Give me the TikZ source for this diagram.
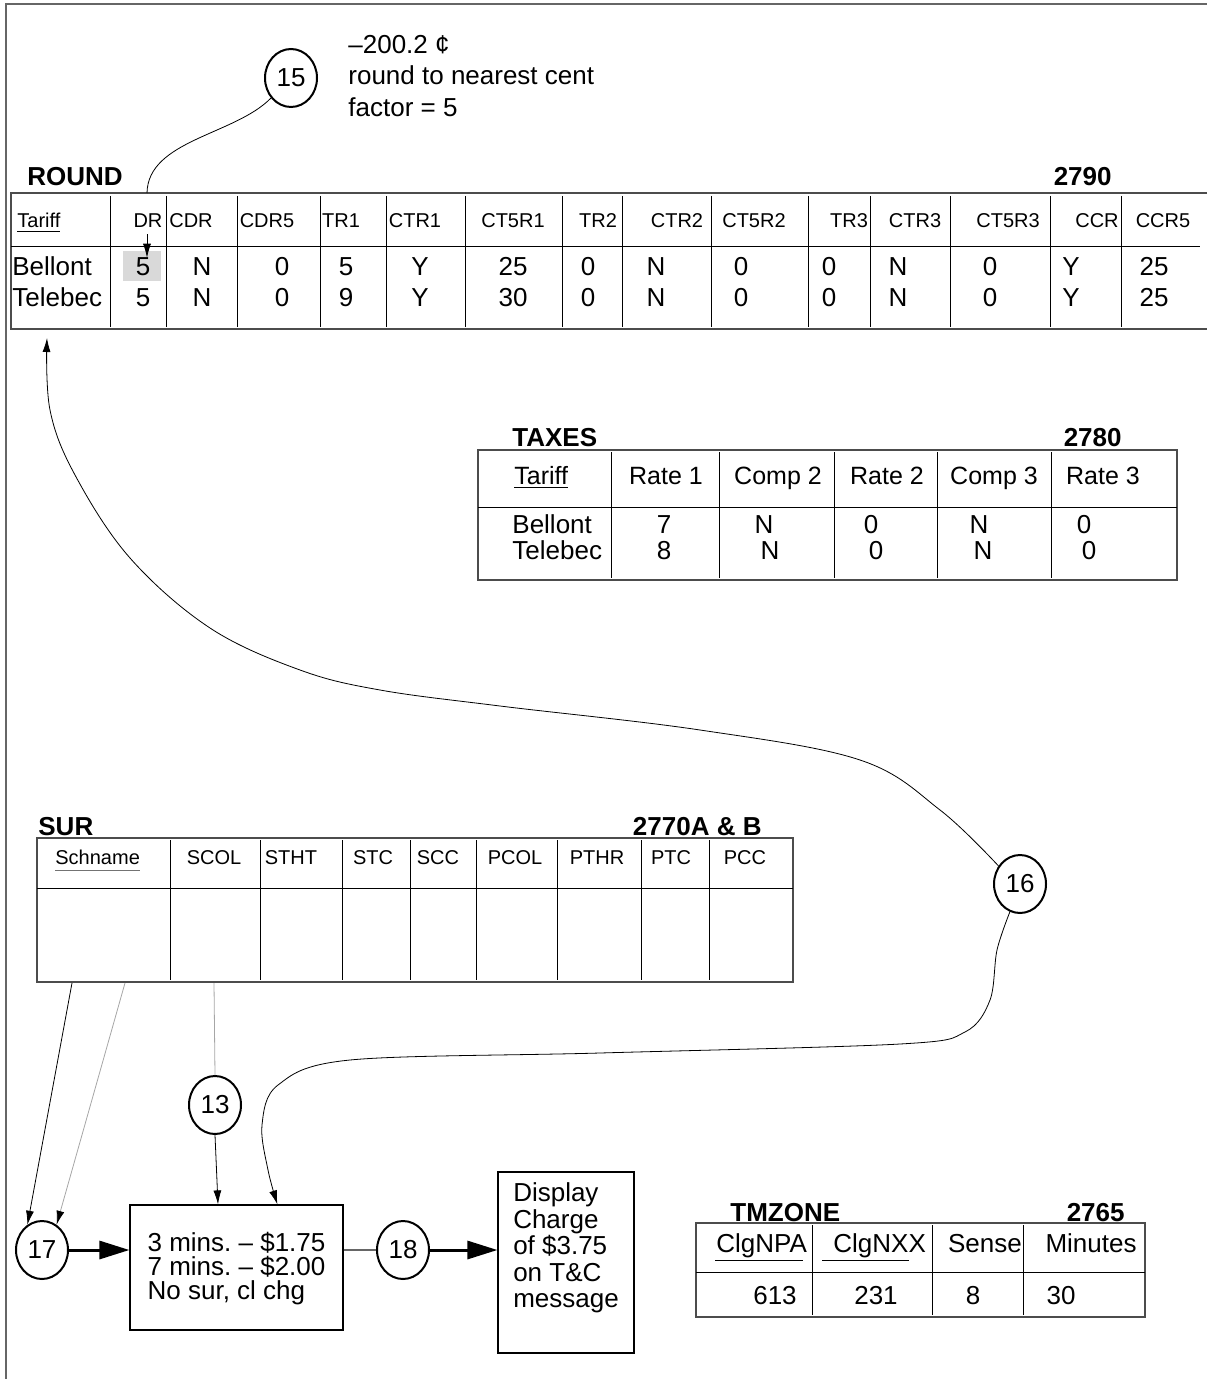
\documentclass[tikz,border=0pt]{standalone}
\usepackage{fontspec}
\setmainfont{Liberation Sans}
\usetikzlibrary{arrows.meta, shapes.geometric, calc}

\tikzset{
  num/.style={draw, ellipse, line width=1pt, minimum width=26pt, minimum height=29pt, inner sep=0pt, font=\fontsize{13}{15}\selectfont},
  ttl/.style={font=\bfseries\fontsize{13}{15}\selectfont, anchor=base west, inner sep=0pt},
  hdr/.style={font=\fontsize{10}{12}\selectfont, anchor=base, inner sep=0pt},
  hdrb/.style={font=\fontsize{12.5}{14}\selectfont, anchor=base, inner sep=0pt},
  val/.style={font=\fontsize{13}{15}\selectfont, anchor=base, inner sep=0pt},
  tabframe/.style={line width=1pt, draw=black!70},
  sep/.style={line width=0.5pt},
  link/.style={-{Latex[length=7pt,width=4pt]}, line width=0.4pt},
  fat/.style={-{Triangle[length=15pt,width=9pt]}, line width=1.5pt},
  boxed/.style={draw, line width=0.6pt, inner sep=0pt},
}

\begin{document}
\frenchspacing
\begin{tikzpicture}[x=0.5pt, y=-0.5pt]
    \useasboundingbox (0,0) rectangle (1207,1379);

    % Page frame (left and top)
    \draw[line width=1pt, black!60] (6,1379) -- (6,4) -- (1207,4);

    % Note 15
    \node[num] (n15) at (291,78) {15};
    \node[val, anchor=base west] (note1) at (348,54) {–200.2 ¢};
    \node[val, anchor=base west] (note2) at (348,85) {round to nearest cent};
    \node[val, anchor=base west] (note3) at (348,117) {factor = 5};

    % ROUND table
    \node[ttl] (roundttl) at (27,186) {ROUND};
    \node[ttl, anchor=base east] (roundno) at (1112,186) {2790};
    \draw[tabframe] (1207,193) -- (11,193) -- (11,329) -- (1207,329);
    \draw[sep] (11,247) -- (1200,247);
    \foreach \x in {110,166,237,320,386,465,562,622,711,808,870,950,1050,1121}
        \draw[sep] (\x,196) -- (\x,327);
    \fill[black!15] (123,251) rectangle (161,281);
    \node[hdr, anchor=base west] (rtariff) at (17,228) {\underline{Tariff}};
    \foreach \x/\t in {148/DR,191/CDR,267/CDR5,341/TR1,415/CTR1,513/CT5R1,598/TR2,677/CTR2,
                       754/CT5R2,849/TR3,915/CTR3,1008/CT5R3,1097/CCR,1163/CCR5}
        \node[hdr] (rh\t) at (\x,228) {\t};
    \node[val, anchor=base west] (rbell) at (12,276) {Bellont};
    \node[val, anchor=base west] (rtele) at (12,307) {Telebec};
    \foreach \x/\a/\b in {143/5/5,202/N/N,282/0/0,346/5/9,420/Y/Y,513/25/30,588/0/0,656/N/N,
                          741/0/0,829/0/0,898/N/N,990/0/0,1071/Y/Y,1154/25/25} {
        \node[val] (ra\x) at (\x,276) {\a};
        \node[val] (rb\x) at (\x,307) {\b};
    }
    \coordinate (drtop) at (147,193);
    \draw[link] ([yshift=-3pt]rhDR.south -| drtop) -- (ra143.north -| drtop);
    \draw[line width=0.4pt] (n15.225) .. controls (235,135) and (148,140) .. (drtop);

    % TAXES table
    \node[ttl] (taxttl) at (512,446) {TAXES};
    \node[ttl, anchor=base east] (taxno) at (1122,446) {2780};
    \draw[tabframe] (478,450) rectangle (1177,580);
    \draw[sep] (478,507) -- (1177,507);
    \foreach \x in {611,719,834,937,1051}
        \draw[sep] (\x,452) -- (\x,578);
    \node[hdrb, anchor=base west] (ttariff) at (514,484) {\underline{Tariff}};
    \foreach \x/\t in {666/Rate 1,778/Comp 2,887/Rate 2,994/Comp 3,1103/Rate 3}
        \node[hdrb] (th\x) at (\x,484) {\t};
    \node[val, anchor=base west] (tbell) at (512,533) {Bellont};
    \node[val, anchor=base west] (ttele) at (512,559) {Telebec};
    \foreach \x/\a in {664/7,764/N,871/0,979/N,1084/0}
        \node[val] (ta\x) at (\x,533) {\a};
    \foreach \x/\b in {664/8,770/N,876/0,983/N,1089/0}
        \node[val] (tb\x) at (\x,559) {\b};

    % SUR table
    \node[ttl] (surttl) at (38,835) {SUR};
    \node[ttl, anchor=base east] (surno) at (762,835) {2770A \& B};
    \draw[tabframe] (37,838) rectangle (793,982);
    \draw[sep] (37,888) -- (793,888);
    \foreach \x in {170,260,342,410,476,557,641,709}
        \draw[sep] (\x,840) -- (\x,980);
    \node[hdr, anchor=base west] (sschname) at (55,864) {Schname};
    \draw[black!55, line width=0.8pt] ([yshift=-3pt]sschname.south west) -- ([yshift=-3pt]sschname.south east);
    \foreach \x/\t in {214/SCOL,291/STHT,373/STC,438/SCC,515/PCOL,597/PTHR,671/PTC,745/PCC}
        \node[hdr] (sh\t) at (\x,864) {\t};
    \coordinate (sura) at (72,983);
    \coordinate (surb) at (125,983);
    \coordinate (surc) at (214,983);

    % Steps 16, 13, 17, 18
    \node[num] (n16) at (1020,884) {16};
    \node[num] (n13) at (215,1105) {13};
    \node[num] (n17) at (42,1250) {17};
    \node[num] (n18) at (403,1250) {18};

    % Charge box and display box
    \node[boxed, minimum width=106.5pt, minimum height=62.5pt] (calc) at (236.5,1267.5) {};
    \node[align=left, inner sep=0pt, font=\fontsize{13}{12}\selectfont] (calctxt) at (236.5,1269)
        {3 mins. – \$1.75\\7 mins. – \$2.00\\No sur, cl chg};
    \node[boxed, minimum width=68pt, minimum height=90.5pt] (disp) at (566,1262.5) {};
    \node[align=left, inner sep=0pt, font=\fontsize{13}{13.25}\selectfont] (disptxt) at (566,1248)
        {Display\\Charge\\of \$3.75\\on T\&C\\message};

    \draw[link] (sura) -- (n17.120);
    \draw[black!35, line width=0.4pt, -{Latex[length=7pt,width=4pt,black]}] (surb) -- (n17.60);
    \draw[black!35, line width=0.4pt] (surc) -- (n13.north);
    \draw[link] (n13.south) -- ($(n13.south |- calc.north)+(3,0)$);
    \draw[fat] (n17.east) -- (n17.east -| calc.west);
    \draw[black!60, line width=0.6pt] (calc.east |- n18) -- (n18.west);
    \draw[fat] (n18.east) -- (n18.east -| disp.west);

    % Curves from 16
    \coordinate (roundbot) at (47,338);
    \draw[link] plot[smooth, tension=0.6] coordinates {(n16.140) (940,810) (860,760)
        (700,730) (500,706) (380,690) (300,670) (210,628) (130,558) (75,475) (50,410) (roundbot)};
    \coordinate (calctop) at ($(calc.north west)+(148,0)$);
    \draw[link] plot[smooth, tension=0.55] coordinates {(n16.250) (997,950) (990,1000) (965,1032)
        (900,1044) (600,1053) (350,1060) (278,1085) (262,1125) (268,1170) (calctop)};

    % TMZONE table
    \node[ttl] (tmzttl) at (730,1221) {TMZONE};
    \node[ttl, anchor=base east] (tmzno) at (1125,1221) {2765};
    \draw[tabframe] (696,1223) rectangle (1145,1317);
    \draw[sep] (696,1272) -- (1145,1272);
    \foreach \x in {812,932,1023}
        \draw[sep] (\x,1225) -- (\x,1315);
    \node[val, anchor=base west] (mnpa) at (716,1252) {ClgNPA};
    \node[val, anchor=base west] (mnxx) at (833,1252) {ClgNXX};
    \draw[line width=0.5pt] (715,1260) -- (803,1260);
    \draw[line width=0.5pt] (822,1260) -- (909,1260);
    \node[val] (msense) at (985,1252) {Sense};
    \node[val] (mmin) at (1091,1252) {Minutes};
    \foreach \x/\v in {775/613,876/231,973/8,1061/30}
        \node[val] (md\x) at (\x,1304) {\v};
\end{tikzpicture}
\end{document}
